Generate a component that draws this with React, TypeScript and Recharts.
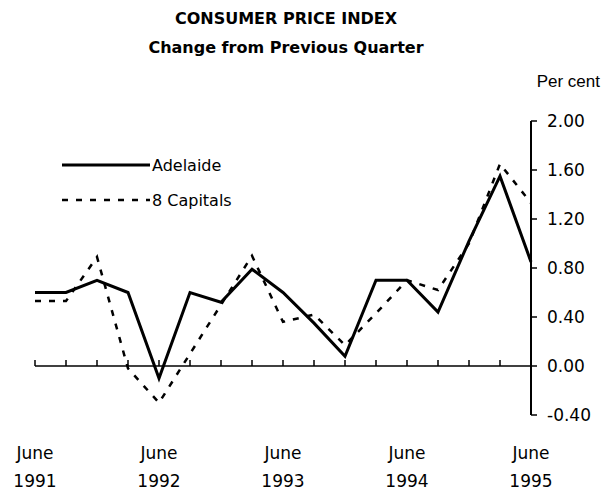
import React from 'react';
import { LineChart, Line, XAxis, YAxis, ReferenceLine } from 'recharts';

const quarters = [
  'Jun 1991', 'Sep 1991', 'Dec 1991', 'Mar 1992',
  'Jun 1992', 'Sep 1992', 'Dec 1992', 'Mar 1993',
  'Jun 1993', 'Sep 1993', 'Dec 1993', 'Mar 1994',
  'Jun 1994', 'Sep 1994', 'Dec 1994', 'Mar 1995',
  'Jun 1995'
];
const adelaide = [0.6, 0.6, 0.7, 0.6, -0.1, 0.6, 0.52, 0.79, 0.6, 0.35, 0.08, 0.7, 0.7, 0.44, 1.02, 1.55, 0.85];
const capitals = [0.53, 0.53, 0.89, -0.02, -0.3, 0.1, 0.5, 0.9, 0.36, 0.42, 0.17, 0.43, 0.7, 0.62, 1.0, 1.65, 1.33];
const yTicks = [-0.4, 0, 0.4, 0.8, 1.2, 1.6, 2.0];

const data = quarters.map((q, i) => ({ idx: i, q, adelaide: adelaide[i], capitals: capitals[i] }));
const xTicks = data.map(d => d.idx);

const FONT = 'DejaVu Sans';

const QuarterTick = (props: any) => {
  const { x, y, payload } = props;
  const label = quarters[payload.value];
  if (!label || !label.startsWith('Jun')) return null;
  const [, year] = label.split(' ');
  return (
    <g>
      <text x={x} y={y + 44} textAnchor="middle" fontFamily={FONT} fontSize={17} fill="#000">June</text>
      <text x={x} y={y + 72} textAnchor="middle" fontFamily={FONT} fontSize={17} fill="#000">{year}</text>
    </g>
  );
};

const LegendBox = () => (
  <div style={{ position: 'absolute', left: 62, top: 155, fontFamily: FONT, fontSize: 16, color: '#000' }}>
    <div style={{ display: 'flex', alignItems: 'center', height: 20 }}>
      <svg width={90} height={10}><line x1={0} y1={5} x2={88} y2={5} stroke="#000" strokeWidth={3} /></svg>
      <span>Adelaide</span>
    </div>
    <div style={{ display: 'flex', alignItems: 'center', height: 20, marginTop: 15 }}>
      <svg width={90} height={10}><line x1={0} y1={5} x2={88} y2={5} stroke="#000" strokeWidth={2.5} strokeDasharray="6 8" /></svg>
      <span>8 Capitals</span>
    </div>
  </div>
);

export default function App() {
  return (
    <div style={{ position: 'absolute', left: 0, top: 0, width: 604, height: 493, background: '#fff' }}>
      <div style={{ position: 'absolute', top: 9, width: 572, textAlign: 'center', fontFamily: FONT, fontWeight: 'bold', fontSize: 16 }}>
        CONSUMER PRICE INDEX
      </div>
      <div style={{ position: 'absolute', top: 38, width: 572, textAlign: 'center', fontFamily: FONT, fontWeight: 'bold', fontSize: 16 }}>
        Change from Previous Quarter
      </div>
      <div style={{ position: 'absolute', top: 72, right: 4, fontFamily: '"Liberation Sans Narrow", "Liberation Sans"', fontSize: 17, whiteSpace: 'nowrap' }}>Per cent</div>
      <LineChart width={604} height={493} data={data} margin={{ top: 121, right: 0, bottom: 0, left: 35 }}>
        <XAxis
          dataKey="idx"
          type="number"
          domain={[0, 16]}
          ticks={xTicks}
          interval={0}
          axisLine={false}
          tickLine={false}
          tickSize={0}
          tickMargin={0}
          height={78}
          tick={<QuarterTick />}
        />
        <YAxis
          orientation="right"
          domain={[-0.4, 2]}
          ticks={yTicks}
          width={73}
          axisLine={{ stroke: '#000', strokeWidth: 2 }}
          tickLine={{ stroke: '#000', strokeWidth: 1.5 }}
          tickSize={6}
          tickMargin={10}
          tickFormatter={(v: number) => v.toFixed(2)}
          tick={{ fill: '#000', fontFamily: FONT, fontSize: 17 }}
        />
        <ReferenceLine y={0} stroke="#000" strokeWidth={1.5} />
        {xTicks.slice(0, -1).map(i => (
          <ReferenceLine key={i} segment={[{ x: i, y: 0 }, { x: i, y: 0.05 }]} stroke="#000" strokeWidth={1.5} />
        ))}
        <Line
          type="linear"
          dataKey="adelaide"
          name="Adelaide"
          stroke="#000"
          strokeWidth={3}
          dot={false}
          isAnimationActive={false}
        />
        <Line
          type="linear"
          dataKey="capitals"
          name="8 Capitals"
          stroke="#000"
          strokeWidth={2.5}
          strokeDasharray="6 8"
          dot={false}
          isAnimationActive={false}
        />
      </LineChart>
      <LegendBox />
    </div>
  );
}
